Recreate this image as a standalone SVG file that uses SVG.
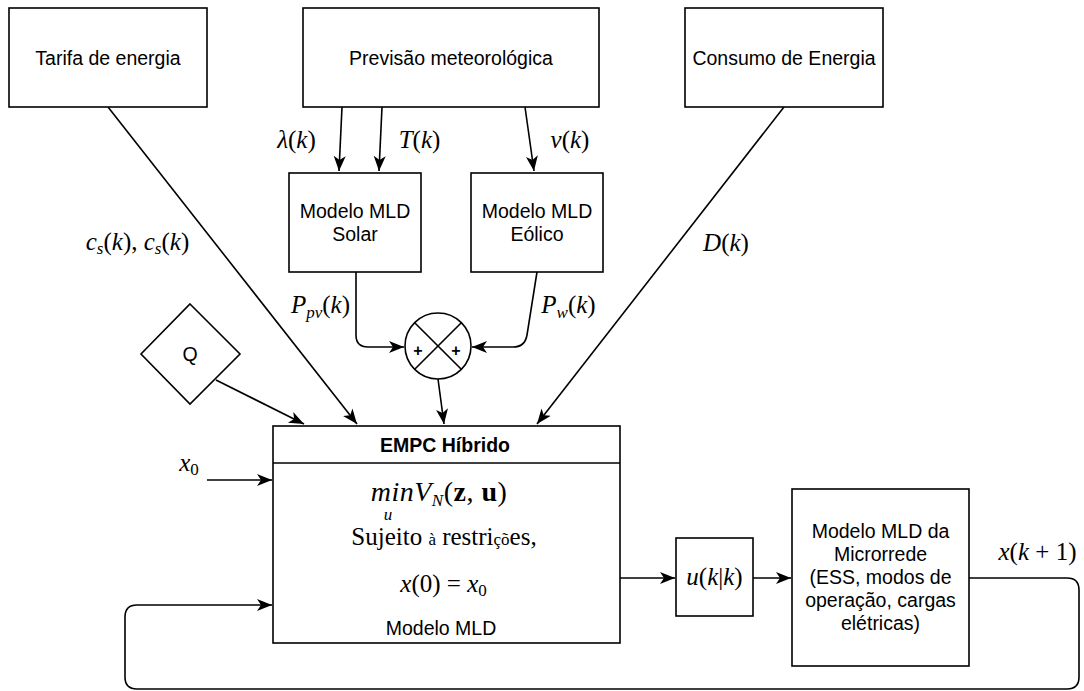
<svg xmlns="http://www.w3.org/2000/svg" width="1084" height="691" viewBox="0 0 1084 691">
<style>
.box{fill:#fff;stroke:#000;stroke-width:1.6}
.lbl{font-family:"Liberation Sans",Arial,sans-serif;font-size:19.5px;fill:#000;text-anchor:middle}
.b{font-weight:bold}
.m{font-family:"Liberation Serif","Times New Roman",serif;font-size:25px;fill:#000;text-anchor:middle}
.i{font-style:italic}
.sub{font-size:17px}
.e{fill:none;stroke:#000;stroke-width:1.6}
</style>
<defs>
<marker id="ah" markerUnits="userSpaceOnUse" markerWidth="16" markerHeight="14" refX="15" refY="6" orient="auto" viewBox="0 0 16 12">
<path d="M0,0 L15,6 L0,12 L4,6 z" fill="#000"/>
</marker>
</defs>
<rect width="1084" height="691" fill="#fff"/>

<g id="connectors">
<path class="e" d="M342,107 L339,171" marker-end="url(#ah)"/>
<path class="e" d="M382,107 L379,171" marker-end="url(#ah)"/>
<path class="e" d="M525,107 L534,171" marker-end="url(#ah)"/>
<path class="e" d="M356,272 L356,335 Q356,347 368,347 L404,347" marker-end="url(#ah)"/>
<path class="e" d="M537,272 L527,335 Q525,347 513,347 L472,347" marker-end="url(#ah)"/>
<path class="e" d="M438,379 L444,424" marker-end="url(#ah)"/>
<path class="e" d="M108,107 L357,424" marker-end="url(#ah)"/>
<path class="e" d="M784,107 L537,424" marker-end="url(#ah)"/>
<path class="e" d="M216,380 L304,424" marker-end="url(#ah)"/>
<path class="e" d="M207,480 L272,480" marker-end="url(#ah)"/>
<path class="e" d="M620,578 L675,578" marker-end="url(#ah)"/>
<path class="e" d="M753,578 L791,578" marker-end="url(#ah)"/>
<path class="e" d="M969,578 L1067,578 Q1079,578 1079,590 L1079,677 Q1079,689 1067,689 L137,689 Q125,689 125,677 L125,617 Q125,605 137,605 L272,605" marker-end="url(#ah)"/>
</g>

<g id="tarifa">
<rect class="box" x="9" y="8" width="198" height="99"/>
<text class="lbl" x="108" y="64.5">Tarifa de energia</text>
</g>
<g id="previsao">
<rect class="box" x="303" y="8" width="296" height="99"/>
<text class="lbl" x="451" y="64.5">Previsão meteorológica</text>
</g>
<g id="consumo">
<rect class="box" x="685" y="8" width="198" height="99"/>
<text class="lbl" x="784" y="64.5">Consumo de Energia</text>
</g>
<g id="solar">
<rect class="box" x="289" y="173" width="132" height="99"/>
<text class="lbl" x="355" y="218">Modelo MLD</text>
<text class="lbl" x="355" y="241">Solar</text>
</g>
<g id="eolico">
<rect class="box" x="471" y="173" width="132" height="99"/>
<text class="lbl" x="537" y="218">Modelo MLD</text>
<text class="lbl" x="537" y="241">Eólico</text>
</g>
<g id="somador">
<circle class="box" cx="438" cy="346" r="33"/>
<path class="e" d="M414.7,322.7 L461.3,369.3 M461.3,322.7 L414.7,369.3"/>
<text class="lbl b" x="418" y="356" style="font-size:16px">+</text>
<text class="lbl b" x="456" y="356" style="font-size:16px">+</text>
</g>
<g id="q">
<path class="box" d="M190,304 L240,354 L190,404 L141,354 z"/>
<text class="lbl" x="190" y="361">Q</text>
</g>
<g id="empc">
<rect class="box" x="273" y="426" width="347" height="217"/>
<line class="e" x1="273" y1="463" x2="620" y2="463"/>
<text class="lbl b" x="445" y="452">EMPC Híbrido</text>
<text class="m" x="439" y="501" style="font-size:28px;letter-spacing:0.5px"><tspan class="i">minV</tspan><tspan class="i sub" dy="5">N</tspan><tspan dy="-5">(</tspan><tspan font-weight="bold">z</tspan><tspan>, </tspan><tspan font-weight="bold">u</tspan><tspan>)</tspan></text>
<text class="m i sub" x="388" y="520">u</text>
<text class="m" x="444" y="545">Sujeito <tspan style="font-size:17px">à</tspan> restri<tspan style="font-size:17px">çõ</tspan>es,</text>
<text class="m" x="443.5" y="592"><tspan class="i">x</tspan>(0) = <tspan class="i">x</tspan><tspan class="sub" dy="4">0</tspan></text>
<text class="lbl" x="441" y="635">Modelo MLD</text>
</g>
<g id="u">
<rect class="box" x="676" y="538" width="77" height="78"/>
<text class="m" x="714.5" y="585"><tspan class="i">u</tspan>(<tspan class="i">k</tspan>|<tspan class="i">k</tspan>)</text>
</g>
<g id="microrrede">
<rect class="box" x="792" y="489" width="177" height="177"/>
<text class="lbl" x="880.5" y="538">Modelo MLD da</text>
<text class="lbl" x="880.5" y="561">Microrrede </text>
<text class="lbl" x="880.5" y="584">(ESS, modos de</text>
<text class="lbl" x="880.5" y="607">operação, cargas</text>
<text class="lbl" x="880.5" y="630">elétricas)</text>
</g>

<g id="labels">
<text class="m" x="296.5" y="148"><tspan class="i">λ</tspan>(<tspan class="i">k</tspan>)</text>
<text class="m" x="419.5" y="148"><tspan class="i">T</tspan>(<tspan class="i">k</tspan>)</text>
<text class="m" x="570" y="148"><tspan class="i">v</tspan>(<tspan class="i">k</tspan>)</text>
<text class="m" x="137.5" y="250"><tspan class="i">c</tspan><tspan class="i sub" dy="4">s</tspan><tspan dy="-4">(</tspan><tspan class="i">k</tspan>), <tspan class="i">c</tspan><tspan class="i sub" dy="4">s</tspan><tspan dy="-4">(</tspan><tspan class="i">k</tspan>)</text>
<text class="m" x="726" y="251"><tspan class="i">D</tspan>(<tspan class="i">k</tspan>)</text>
<text class="m" x="320.5" y="313"><tspan class="i">P</tspan><tspan class="i sub" dy="5">pv</tspan><tspan dy="-5">(</tspan><tspan class="i">k</tspan>)</text>
<text class="m" x="568.5" y="313"><tspan class="i">P</tspan><tspan class="i sub" dy="5">w</tspan><tspan dy="-5">(</tspan><tspan class="i">k</tspan>)</text>
<text class="m" x="189" y="471"><tspan class="i">x</tspan><tspan class="sub" dy="4">0</tspan></text>
<text class="m" x="1037.5" y="560"><tspan class="i">x</tspan>(<tspan class="i">k</tspan> + 1)</text>
</g>
</svg>
